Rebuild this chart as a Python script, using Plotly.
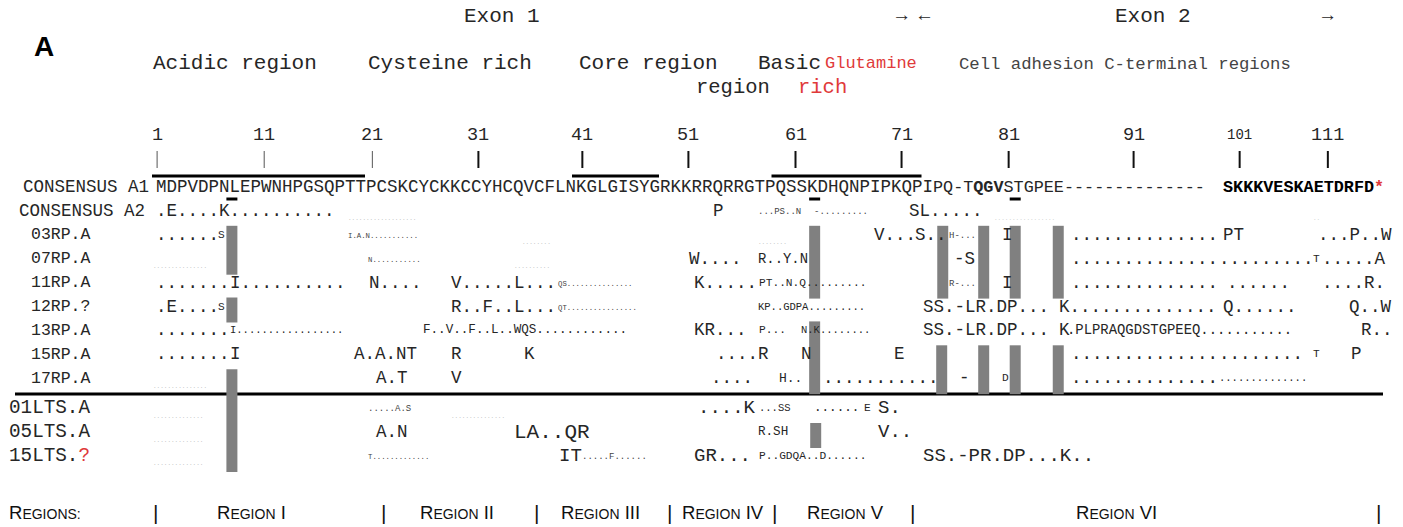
import plotly.graph_objects as go

# ---------------------------------------------------------------- data
ROW_LABELS = ["CONSENSUS A1", "CONSENSUS A2", "03RP.A", "07RP.A", "11RP.A", "12RP.?",
              "13RP.A", "15RP.A", "17RP.A", "01LTS.A", "05LTS.A", "15LTS.?"]

CONSENSUS_A1 = "MDPVDPNLEPWNHPGSQPTTPCSKCYCKKCCYHCQVCFLNKGLGISYGRKKRRQRRGTPQSSKDHQNPIPKQPI"
CONSENSUS_A1_EXON2 = "PQ-T<b>QGV</b>STGPEE--------------"
CONSENSUS_A1_CTERM = "SKKKVESKAETDRFD"

# variant segments per row: (alignment column, residues, print type)
A2 = [(1, ".E....K..........", "n"), (19.3, "...................", "f"), (54, "P", "n"),
      (58.3, "...PS..N", "x9"), (63.7, "-.........", "x9"), (72.7, "SL.....", "n"),
      (80.8, ".................", "fu"), (111.2, "..", "fu")]
R03 = [(1, "......", "n"), (6.9, "S", "s11"), (19.3, "I.A.N...........", "x7"),
       (35.9, "........", "f"), (58.3, "........", "f"), (69.4, "V...", "n"), (73.3, "S..", "n"),
       (76.5, "H-...", "x9"), (81.6, "I", "n"), (88.1, "..............", "n"),
       (102.6, "PT", "n"), (111.7, "...P..W", "n")]
R07 = [(0.7, "...............", "f"), (21.2, "N...........", "x7"), (35.1, "..........", "f"),
       (51.8, "W....", "n"), (58.3, "R..Y.N", "s14"), (77, "-S", "n"),
       (88.1, "..............", "n"), (102.2, ".........", "n"), (111.2, "T", "s11"),
       (112, ".....A", "n")]
R11 = [(1, ".......", "n"), (8, "I..........", "n"), (21.3, "N....", "n"),
       (29.1, "V.....L...", "n"), (39.3, "QS...............", "x7"), (52.2, "K.....", "n"),
       (58.4, "PT..N.Q.........", "s11"), (76.5, "R-...", "x9"), (81.6, "I", "n"),
       (88.1, "..............", "n"), (103, "......", "n"), (112, "....R.", "n")]
R12 = [(1, ".E....", "n"), (6.9, "S", "s11"), (29.1, "R..F..L...", "n"),
       (39.3, "QT................", "x7"), (58.3, "KP..GDPA.........", "s10"),
       (74, "SS.-LR.DP...", "n"), (87, "K..............", "n"), (102.6, "Q......", "n"),
       (114.6, "Q..W", "n")]
R13 = [(1, ".......", "n"), (8, "I.................", "s10"),
       (26.4, "F..V..F..L..WQS............", "s12"), (52.2, "KR...", "n"), (58.4, "P...", "s11"),
       (62.4, "N.K........", "s10"), (74, "SS.-LR.DP...", "n"), (87, "K", "n"),
       (87.8, ".PLPRAQGDSTGPEEQ...........", "s14"), (115.8, "R..", "n")]
R15 = [(1, ".......", "n"), (8, "I", "n"), (19.9, "A.A.NT", "n"), (29.1, "R", "n"),
       (36.05, "K", "n"), (54.3, "....R", "n"), (62.4, "N", "n"), (71.3, "E", "n"),
       (88.1, "..............", "n"), (102.2, "........", "n"), (111.2, "T", "s11"),
       (114.8, "P", "n")]
R17 = [(0.7, "...............", "f"), (21.95, "A.T", "n"), (29.1, "V", "n"), (53.9, "....", "n"),
       (60.3, "H..", "s13"), (64.5, "...........", "n"), (77.5, "-", "n"), (81.6, "D", "s11"),
       (88.1, "..............", "n"), (102.2, "..............", "s10")]
L01 = [(0.7, "..............", "f"), (21.2, ".....A.S", "x9"), (29.1, "...............", "f"),
       (52.6, "....K", "L"), (58.4, "...SS", "s10"), (63.7, "......", "s12"), (68.4, "E", "s11"),
       (69.8, "S.", "L")]
L05 = [(0.7, "..............", "f"), (21.95, "A.N", "n"), (35.1, "LA..QR", "W"),
       (58.3, "R.SH", "s12"), (69.8, "V..", "L")]
L15 = [(0.7, "..............", "f"), (21.2, "T.............", "x7"), (39.4, "IT", "L"),
       (41.6, ".....F......", "x9"), (52.2, "GR...", "L"), (58.4, "P..GDQA..D......", "s11"),
       (74, "SS.-PR.DP...K..", "L")]
ROW_SEGMENTS = [A2, R03, R07, R11, R12, R13, R15, R17, L01, L05, L15]

# conserved-gap columns (grey boxes): (column, first row, last row)
GAP_BOXES = [(7.8, 2, 3), (7.8, 5, 5), (7.8, 8, 11),
             (63.3, 2, 4), (63.3, 6, 8), (63.4, 10, 10),
             (75.5, 2, 4), (75.4, 7, 8), (79.4, 2, 4), (79.4, 7, 8),
             (82.4, 2, 4), (82.4, 7, 8), (86.5, 2, 4), (86.5, 7, 8)]
UNDERLINED_COLS = [7.8, 63.3, 82.4]
DOMAIN_SPANS = [(1, 20), (41, 48), (60, 73)]

TICK_LABELS = ["1", "11", "21", "31", "41", "51", "61", "71", "81", "91", "101", "111"]
TICK_COLS = [0.7, 10.9, 21.2, 31.3, 41.2, 51.3, 61.5, 71.6, 81.8, 93.7, 103.8, 112.2]

HEADERS_1 = [("Acidic region", 0.7), ("Cysteine rich", 21.2), ("Core region", 41.3), ("Basic", 58.3)]
HEADERS_2 = [("region", 52.4)]
RED_HEADERS = [("Glutamine", 64.7, 1), ("rich", 62.1, 2)]
CTERM_HEADER = ("Cell adhesion C-terminal regions", 77.5)
EXON_HEADERS = [("Exon 1", 30.3), ("\u2192 \u2190", 71.5), ("Exon 2", 92.3), ("\u2192", 112.0)]

REGION_NAMES = ["I", "II", "III", "IV", "V", "VI"]
REGION_BOUNDS = [1, 22.8, 37.3, 50, 60, 73.1, 117.5]
REGION_LABEL_COLS = [10.2, 29.8, 43.4, 55.1, 66.8, 92.6]

# ---------------------------------------------------------------- layout
W, H = 1403, 527
X0, CW = 155.0, 10.5
Y0, RH, GAP = 187.0, 23.9, 6.0
MONO = "Liberation Mono, Courier New, monospace"
INK = "#262626"
RED = "#e03a3a"
SIZES = {"n": 17.5, "L": 19.0, "W": 21.0, "s14": 13.9, "s13": 13.0, "s12": 12.6,
         "s11": 11.2, "s10": 10.5, "x9": 9.0, "x7": 7.3, "f": 6.0, "fu": 6.0}


def X(col):
    return X0 + (col - 1) * CW


def Y(i):
    return Y0 + i * RH + (GAP if i >= 9 else 0)


fig = go.Figure()
ann = []


def text(x, y, s, size, color=INK, family=MONO, anchor="left"):
    ann.append(dict(x=x, y=y, xref="x", yref="y", text=s, showarrow=False,
                    xanchor=anchor, yanchor="middle", borderpad=0,
                    font=dict(family=family, size=size, color=color)))


# panel letter
text(33, 46, "<b>A</b>", 28, "#000", "Liberation Sans, Arial, sans-serif")

# exon headers
for s, c in EXON_HEADERS:
    text(X(c), 16, s, 21 if "Exon" in s else 19)

# region headers
for s, c in HEADERS_1:
    text(X(c), 63, s, 21)
for s, c in HEADERS_2:
    text(X(c), 87, s, 20.5)
for s, c, line in RED_HEADERS:
    text(X(c), 63 if line == 1 else 87, s, 17 if line == 1 else 20.5, RED)
text(X(CTERM_HEADER[1]), 64, CTERM_HEADER[0], 17.3, "#444")

# position ticks
shapes = []
for lab, c in zip(TICK_LABELS, TICK_COLS):
    cx = X(c) + CW / 2
    text(cx, 135, lab, 14 if lab == "101" else 18.5, anchor="center")
    thin = int(lab) < 31
    shapes.append(dict(type="line", xref="x", yref="y", x0=cx, x1=cx, y0=151, y1=168,
                       line=dict(color="#555" if thin else "#111", width=1 if thin else 2)))

# domain over-bars and underlines
for a, b in DOMAIN_SPANS:
    shapes.append(dict(type="line", xref="x", yref="y", x0=X(a) - 3, x1=X(b + 1), y0=176, y1=176,
                       line=dict(color="#000", width=3)))
for c in UNDERLINED_COLS:
    shapes.append(dict(type="line", xref="x", yref="y", x0=X(c), x1=X(c) + 11, y0=199, y1=199,
                       line=dict(color="#000", width=3)))

# separator between RP and LTS groups
shapes.append(dict(type="line", xref="x", yref="y", x0=15, x1=1383, y0=394, y1=394,
                   line=dict(color="#000", width=3)))

# grey gap boxes (drawn above separator)
for c, r0, r1 in GAP_BOXES:
    shapes.append(dict(type="rect", xref="x", yref="y", x0=X(c), x1=X(c) + 11,
                       y0=Y(r0) - 9, y1=Y(r1) + 16, line=dict(width=0),
                       fillcolor="#808080"))

# row labels
for i, lab in enumerate(ROW_LABELS):
    if lab.startswith("CONSENSUS"):
        lx, fs = (22 if i == 0 else 18), 17.5
    elif "LTS" in lab:
        lx, fs = 8, 19.3
    else:
        lx, fs = 30, 16.5
    s = lab
    if lab.endswith("?") and "LTS" in lab:
        s = lab[:-1] + f"<span style='color:{RED}'>?</span>"
    text(lx, Y(i), s, fs)

# consensus A1
text(X(1), Y(0), CONSENSUS_A1, SIZES["n"])
text(X(75), Y(0), CONSENSUS_A1_EXON2, 16.8)
text(X(102.6), Y(0), f"<b>{CONSENSUS_A1_CTERM}</b><b><span style='color:{RED}'>*</span></b>", 16.8, "#000")

# variant rows
for i, segs in enumerate(ROW_SEGMENTS, start=1):
    for c, s, k in segs:
        if k == "f":
            text(X(c), Y(i) + 8, s, SIZES[k], "#b5b5b5")
        elif k == "fu":
            text(X(c), Y(i) + 8, s, SIZES[k], "#c8c8c8")
        elif k.startswith("x"):
            text(X(c), Y(i) + 1, s, SIZES[k], "#444")
        else:
            text(X(c), Y(i), s, SIZES[k])

# bottom region strip
SANS = "Liberation Sans, Arial, sans-serif"


def smallcaps(word):
    return word[0] + f"<span style='font-size:14px'>{word[1:].upper()}</span>"


text(8, 512, smallcaps("Regions:"), 18.5, "#111", SANS)
for b in REGION_BOUNDS:
    text(X(b), 512, "|", 21, "#111", SANS, anchor="center")
for name, c in zip(REGION_NAMES, REGION_LABEL_COLS):
    text(X(c), 512, smallcaps("Region") + " " + name, 18.5, "#111", SANS, anchor="center")

fig.update_layout(width=W, height=H, margin=dict(l=0, r=0, t=0, b=0),
                  paper_bgcolor="white", plot_bgcolor="white",
                  xaxis=dict(range=[0, W], visible=False, fixedrange=True),
                  yaxis=dict(range=[H, 0], visible=False, fixedrange=True),
                  annotations=ann, shapes=shapes, showlegend=False)

# remove the browser's default page margin so the figure fills the window
fig.write_html("out.html", config={"displayModeBar": False},
               post_script="document.body.style.margin='0';document.body.style.overflow='hidden';")
